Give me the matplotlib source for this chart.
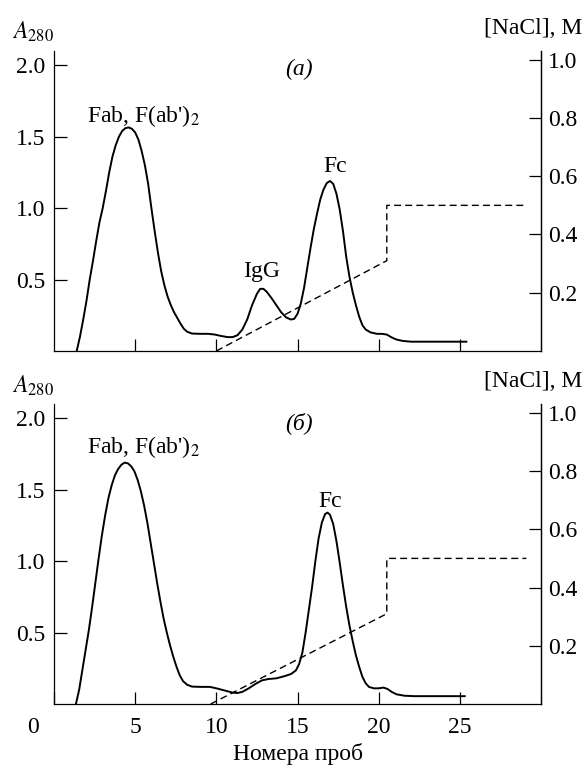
import matplotlib
matplotlib.use('Agg')
import matplotlib.pyplot as plt
from matplotlib.transforms import ScaledTranslation

plt.rcParams['font.family'] = ['Liberation Serif', 'DejaVu Serif']
plt.rcParams['mathtext.fontset'] = 'stix'

# Данные (номер пробы, A280)
xa = [1.4, 1.6, 1.8, 2.0, 2.2, 2.4, 2.6, 2.8, 3.0, 3.2, 3.4, 3.6, 3.8, 4.0, 4.2,
      4.4, 4.6, 4.8, 5.0, 5.2, 5.4, 5.6, 5.8, 6.0, 6.2, 6.4, 6.6, 6.8, 7.0, 7.2,
      7.4, 7.6, 7.8, 8.0, 8.2, 8.5, 9.0, 9.5, 9.9, 10.3, 10.7, 11.0, 11.3, 11.6,
      11.9, 12.2, 12.5, 12.7, 12.9, 13.1, 13.4, 13.7, 14.0, 14.3, 14.6, 14.8,
      15.0, 15.2, 15.4, 15.6, 15.8, 16.0, 16.2, 16.4, 16.6, 16.8, 17.0, 17.2,
      17.4, 17.6, 17.8, 18.0, 18.2, 18.4, 18.6, 18.8, 19.0, 19.2, 19.5, 19.9,
      20.2, 20.5, 20.8, 21.1, 21.5, 22.0, 25.4]
ya = [0.0, 0.1, 0.22, 0.35, 0.5, 0.63, 0.77, 0.9, 1.0, 1.12, 1.25, 1.36, 1.44,
      1.5, 1.54, 1.56, 1.565, 1.555, 1.53, 1.48, 1.4, 1.3, 1.17, 1.0, 0.84, 0.69,
      0.56, 0.46, 0.38, 0.32, 0.27, 0.23, 0.19, 0.155, 0.135, 0.122, 0.12, 0.12,
      0.115, 0.105, 0.097, 0.097, 0.11, 0.15, 0.22, 0.32, 0.4, 0.435, 0.435,
      0.415, 0.37, 0.32, 0.27, 0.235, 0.22, 0.225, 0.26, 0.33, 0.44, 0.58, 0.72,
      0.85, 0.96, 1.06, 1.13, 1.175, 1.19, 1.17, 1.1, 0.99, 0.84, 0.66, 0.52,
      0.41, 0.32, 0.24, 0.18, 0.15, 0.13, 0.12, 0.12, 0.115, 0.095, 0.08, 0.07,
      0.065, 0.065]

xb = [1.35, 1.55, 1.75, 1.95, 2.15, 2.35, 2.55, 2.75, 2.95, 3.15, 3.35, 3.55,
      3.75, 3.95, 4.15, 4.35, 4.55, 4.75, 4.95, 5.15, 5.35, 5.55, 5.75, 5.95,
      6.15, 6.35, 6.55, 6.75, 6.95, 7.15, 7.35, 7.55, 7.75, 7.95, 8.2, 8.5, 9.0,
      9.6, 10.0, 10.5, 11.0, 11.3, 11.6, 12.0, 12.4, 12.8, 13.2, 13.7, 14.2,
      14.6, 14.9, 15.1, 15.3, 15.5, 15.7, 15.9, 16.1, 16.3, 16.5, 16.7, 16.85,
      17.0, 17.2, 17.4, 17.6, 17.8, 18.0, 18.2, 18.4, 18.6, 18.8, 19.0, 19.2,
      19.4, 19.7, 20.0, 20.3, 20.55, 20.8, 21.1, 21.6, 22.2, 25.3]
yb = [0.0, 0.1, 0.24, 0.38, 0.52, 0.68, 0.85, 1.02, 1.18, 1.32, 1.44, 1.53, 1.6,
      1.645, 1.675, 1.69, 1.685, 1.665, 1.63, 1.57, 1.49, 1.39, 1.27, 1.13, 0.99,
      0.85, 0.72, 0.6, 0.5, 0.41, 0.33, 0.26, 0.2, 0.16, 0.135, 0.122, 0.12, 0.12,
      0.11, 0.095, 0.08, 0.077, 0.085, 0.11, 0.14, 0.165, 0.175, 0.18, 0.195,
      0.21, 0.235, 0.28, 0.36, 0.5, 0.66, 0.82, 1.0, 1.16, 1.27, 1.33, 1.34,
      1.325, 1.26, 1.14, 0.99, 0.83, 0.68, 0.55, 0.44, 0.34, 0.26, 0.19, 0.145,
      0.12, 0.11, 0.11, 0.115, 0.105, 0.085, 0.068, 0.058, 0.055, 0.055]

# градиент NaCl, М
nacl_xa = [10.0, 20.5, 20.5, 29.0]
nacl_ya = [0.0, 0.31, 0.5, 0.5]
nacl_xb = [9.65, 20.5, 20.5, 29.1]
nacl_yb = [0.0, 0.31, 0.5, 0.5]

xticks = [5, 10, 15, 20, 25]
yticks_l = [0.5, 1.0, 1.5, 2.0]
yticks_r = [0.2, 0.4, 0.6, 0.8, 1.0]

fig = plt.figure(figsize=(5.85, 7.68), dpi=100)
fs = 17


def panel(rect, x, y, nx, ny, tag, labels, show_x):
    ax = fig.add_axes(rect)
    ax.plot(x, y, color='black', lw=1.4, solid_joinstyle='round')
    ax.set_xlim(0, 30)
    ax.set_ylim(0, 2.1)
    ax.spines['top'].set_visible(False)
    for s in ax.spines.values():
        s.set_linewidth(0.9)
    ax.set_xticks(xticks)
    ax.set_yticks(yticks_l)
    ax.set_yticklabels(['%.1f' % v for v in yticks_l])
    ax.tick_params(direction='in', length=9, width=0.9, labelsize=fs, pad=6)
    ax.tick_params(axis='x', pad=9)
    if show_x:
        ax.set_xticks([0] + xticks)
        ax.set_xticklabels(['0'] + [str(v) for v in xticks])
        lbl = ax.get_xticklabels()[0]
        lbl.set_transform(lbl.get_transform() +
                          ScaledTranslation(-15 / 72, 0, fig.dpi_scale_trans))
        ax.set_xlabel('Номера проб', fontsize=fs, labelpad=4)
    else:
        ax.set_xticklabels([])

    ax2 = ax.twinx()
    ax2.plot(nx, ny, color='black', lw=1.0, ls=(0, (5, 3)))
    ax2.set_ylim(0, 1.03)
    ax2.set_yticks(yticks_r)
    ax2.set_yticklabels(['%.1f' % v for v in yticks_r])
    ax2.spines['top'].set_visible(False)
    ax2.spines['left'].set_visible(False)
    ax2.spines['bottom'].set_visible(False)
    ax2.spines['right'].set_linewidth(0.9)
    ax2.tick_params(direction='in', length=9, width=0.9, labelsize=fs, pad=5)

    ax.text(15.1, 1.97, tag, fontsize=fs, style='italic', ha='center', va='center')
    for txt, tx, ty in labels:
        ax.text(tx, ty, txt, fontsize=fs, ha='center', va='baseline')
    return ax


panel([0.0923, 0.543, 0.8325, 0.3906], xa, ya, nacl_xa, nacl_ya, '(a)',
      [("Fab, F(ab')$_2$", 5.5, 1.60), ('IgG', 12.8, 0.52), ('Fc', 17.3, 1.25)],
      False)
panel([0.0923, 0.0833, 0.8325, 0.3906], xb, yb, nacl_xb, nacl_yb, '(б)',
      [("Fab, F(ab')$_2$", 5.5, 1.76), ('Fc', 17.0, 1.38)], True)

# подписи осей сверху
for yy in [0.958, 0.498]:
    fig.text(0.02, yy, r'$A_{280}$', fontsize=fs, ha='left', va='center')
    fig.text(0.995, yy + 0.005, '[NaCl], M', fontsize=fs, ha='right', va='center')

fig.savefig('out.png', dpi=100)
